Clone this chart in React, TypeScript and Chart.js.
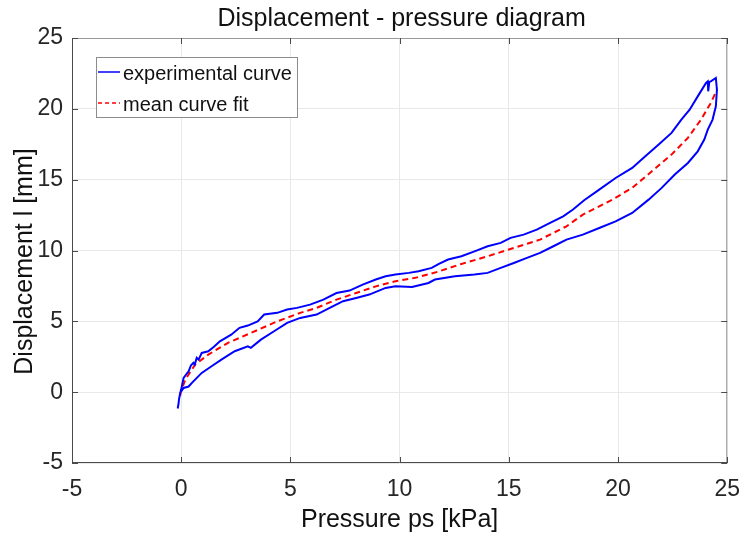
import React, { useEffect, useRef } from "react";
import { Chart, registerables } from "chart.js";

Chart.register(...registerables);

// Experimental hysteresis loop (path order: start tail, loading branch up, unloading branch down)
const pressureExp = [
  -0.16, -0.12, -0.1, -0.05, 0.0, 0.11, 0.25, 0.34, 0.45, 0.56, 0.62, 0.71, 0.8, 0.94, 1.24, 1.5, 1.77,
  2.29, 2.67, 3.05, 3.5, 3.8, 4.4, 4.85, 5.3, 5.9, 6.51, 7.11, 7.71, 8.31, 8.91, 9.36, 9.81, 10.42,
  10.87, 11.47, 11.8, 12.22, 12.83, 13.43, 14.03, 14.63, 15.08, 15.68, 16.28, 16.89, 17.49, 17.94,
  18.45, 19.14, 19.89, 20.65, 21.25, 21.85, 22.45, 22.9, 23.28, 23.65, 24.03, 24.11, 24.13, 24.18,
  24.25, 24.48, 24.53, 24.48, 24.33, 24.11, 23.95, 23.65, 23.2, 22.6, 22.0, 21.4, 20.65, 19.89,
  19.14, 18.39, 17.64, 17.04, 16.43, 15.83, 15.23, 14.63, 14.03, 13.43, 12.53, 11.62, 11.32, 10.57,
  9.81, 9.36, 8.61, 8.01, 7.41, 6.8, 6.2, 5.45, 4.85, 4.25, 3.65, 3.19, 3.05, 2.45, 1.84, 1.39, 0.94,
  0.49, 0.34, 0.11, 0.0,
];
const displacementExp = [
  -1.15, -0.8, -0.5, -0.1, 0.2, 1.01, 1.3, 1.47, 1.9, 2.07, 1.95, 2.42, 2.3, 2.77, 2.89, 3.2, 3.59,
  4.06, 4.54, 4.7, 5.0, 5.48, 5.6, 5.83, 5.95, 6.18, 6.53, 7.0, 7.17, 7.59, 7.95, 8.18, 8.3, 8.42,
  8.53, 8.77, 9.05, 9.36, 9.59, 9.94, 10.3, 10.54, 10.89, 11.12, 11.47, 11.95, 12.41, 12.89,
  13.55, 14.3, 15.12, 15.83, 16.65, 17.47, 18.3, 19.24, 19.94, 20.88, 21.83, 21.94, 21.24, 21.9,
  21.94, 22.18, 21.35, 20.18, 19.24, 18.53, 17.83, 17.0, 16.18, 15.36, 14.42, 13.59, 12.65, 12.06,
  11.59, 11.12, 10.77, 10.3, 9.83, 9.48, 9.12, 8.77, 8.42, 8.3, 8.18, 7.95, 7.71, 7.43,
  7.47, 7.36, 6.89, 6.65, 6.42, 5.95, 5.48, 5.24, 4.89, 4.3, 3.71, 3.13, 3.24, 2.89, 2.3, 1.83, 1.36,
  0.66, 0.4, 0.3, 0.05,
];

// Mean curve fit
const pressureFit = [
  -0.05, 0.0, 0.19, 0.64, 1.24, 2.14, 3.19, 4.4, 5.45, 6.2, 7.11, 8.01, 8.91, 9.81, 10.72, 11.75,
  12.83, 14.03, 15.23, 16.43, 17.64, 18.39, 19.74, 20.65, 21.55, 22.45, 23.2, 23.8, 24.25, 24.53,
];
const displacementFit = [
  -0.25, 0.1, 0.89, 1.95, 2.65, 3.48, 4.18, 5.0, 5.6, 5.95, 6.53, 7.0, 7.47, 7.83, 8.07, 8.5,
  9.05, 9.59, 10.18, 10.77, 11.71, 12.53, 13.59, 14.42, 15.59, 16.77, 17.95, 19.24, 20.42, 21.35,
];

const xTicks = [-5, 0, 5, 10, 15, 20, 25];
const yTicks = [-5, 0, 5, 10, 15, 20, 25];

const titleText = "Displacement - pressure diagram";
const xLabel = "Pressure ps [kPa]";
const yLabel = "Displacement l [mm]";
const seriesLabels = ["experimental curve", "mean curve fit"];

const FONT = '"Liberation Sans", Arial, Helvetica, sans-serif';
const INK = "#262626";

const framePlugin = {
  id: "frame",
  afterDatasetsDraw(chart: any) {
    const { ctx, chartArea } = chart;
    const { left, right, top, bottom } = chartArea;
    const xs = chart.scales.x;
    const ys = chart.scales.y;
    ctx.save();
    ctx.lineWidth = 1;
    // top & right (lighter)
    ctx.strokeStyle = "#9a9a9a";
    ctx.beginPath();
    ctx.moveTo(left, top + 0.5);
    ctx.lineTo(right, top + 0.5);
    ctx.moveTo(right - 0.5, top);
    ctx.lineTo(right - 0.5, bottom);
    ctx.stroke();
    // left & bottom
    ctx.strokeStyle = "#4a4a4a";
    ctx.beginPath();
    ctx.moveTo(left + 0.5, top);
    ctx.lineTo(left + 0.5, bottom);
    ctx.moveTo(left, bottom - 0.5);
    ctx.lineTo(right, bottom - 0.5);
    ctx.stroke();
    // inward ticks
    const tl = 6;
    ctx.strokeStyle = "#4a4a4a";
    ctx.beginPath();
    xTicks.forEach((v) => {
      const px = Math.round(xs.getPixelForValue(v)) + 0.5;
      ctx.moveTo(px, bottom);
      ctx.lineTo(px, bottom - tl);
      ctx.moveTo(px, top);
      ctx.lineTo(px, top + tl);
    });
    yTicks.forEach((v) => {
      const py = Math.round(ys.getPixelForValue(v)) + 0.5;
      ctx.moveTo(left, py);
      ctx.lineTo(left + tl, py);
      ctx.moveTo(right, py);
      ctx.lineTo(right - tl, py);
    });
    ctx.stroke();

    // title
    ctx.fillStyle = "#111";
    ctx.font = `25px ${FONT}`;
    ctx.textAlign = "center";
    ctx.textBaseline = "middle";
    ctx.fillText(titleText, (left + right) / 2 + 2, 19);

    // y axis label
    ctx.save();
    ctx.translate(25, (top + bottom) / 2 + 11);
    ctx.rotate(-Math.PI / 2);
    ctx.fillText(yLabel, 0, 0);
    ctx.restore();

    // legend
    const lx = left + 24;
    const ly = top + 19;
    const lw = 201;
    const lh = 60;
    ctx.fillStyle = "#ffffff";
    ctx.fillRect(lx, ly, lw, lh);
    ctx.strokeStyle = "#8c8c8c";
    ctx.lineWidth = 1;
    ctx.strokeRect(lx + 0.5, ly + 0.5, lw, lh);
    ctx.font = `20px ${FONT}`;
    ctx.textAlign = "left";
    chart.data.datasets.forEach((ds: any, i: number) => {
      const cy = ly + 15 + i * 31;
      ctx.strokeStyle = ds.borderColor;
      ctx.lineWidth = 1.5;
      ctx.setLineDash(ds.borderDash ? [4, 3] : []);
      ctx.beginPath();
      ctx.moveTo(lx + 2, cy);
      ctx.lineTo(lx + 24, cy);
      ctx.stroke();
      ctx.setLineDash([]);
      ctx.fillStyle = "#111";
      ctx.fillText(ds.label, lx + 27, cy + 2);
    });
    ctx.restore();
  },
};

export default function App() {
  const ref = useRef<HTMLCanvasElement | null>(null);
  useEffect(() => {
    if (!ref.current) return;
    const expData = pressureExp.map((x, i) => ({ x, y: displacementExp[i] }));
    const fitData = pressureFit.map((x, i) => ({ x, y: displacementFit[i] }));
    const chart = new Chart(ref.current, {
      type: "scatter",
      data: {
        datasets: [
          {
            label: seriesLabels[0],
            data: expData,
            showLine: true,
            borderColor: "#0000ff",
            borderWidth: 2,
            pointRadius: 0,
            tension: 0,
          },
          {
            label: seriesLabels[1],
            data: fitData,
            showLine: true,
            borderColor: "#ff0000",
            borderWidth: 2,
            borderDash: [6, 4],
            pointRadius: 0,
            tension: 0,
          },
        ],
      },
      options: {
        animation: false,
        responsive: false,
        maintainAspectRatio: false,
        layout: { padding: { top: 38, right: 16, left: 0, bottom: 0 } },
        plugins: {
          legend: { display: false },
          title: { display: false },
          tooltip: { enabled: false },
        },
        scales: {
          x: {
            type: "linear",
            min: -5,
            max: 25,
            afterBuildTicks: (s: any) => {
              s.ticks = xTicks.map((v) => ({ value: v }));
            },
            afterFit: (s: any) => {
              s.height = 75;
            },
            ticks: {
              font: { family: FONT, size: 23 },
              color: INK,
              padding: 13,
              maxRotation: 0,
              autoSkip: false,
            },
            grid: { color: "#e8e8e8", drawTicks: false },
            border: { display: false },
            title: {
              display: true,
              text: xLabel,
              font: { family: FONT, size: 25 },
              color: "#111",
              padding: { top: 0, bottom: 3 },
            },
          },
          y: {
            type: "linear",
            min: -5,
            max: 25,
            afterBuildTicks: (s: any) => {
              s.ticks = yTicks.map((v) => ({ value: v }));
            },
            afterFit: (s: any) => {
              s.width = 72;
            },
            ticks: {
              font: { family: FONT, size: 23 },
              color: INK,
              padding: 9,
              autoSkip: false,
            },
            grid: { color: "#e8e8e8", drawTicks: false },
            border: { display: false },
            title: { display: false },
          },
        },
      },
      plugins: [framePlugin],
    } as any);
    return () => chart.destroy();
  }, []);
  return (
    <div style={{ position: "absolute", left: 0, top: 0, width: 753, height: 538, background: "#fff" }}>
      <canvas ref={ref} width={753} height={538} style={{ display: "block" }} />
    </div>
  );
}
